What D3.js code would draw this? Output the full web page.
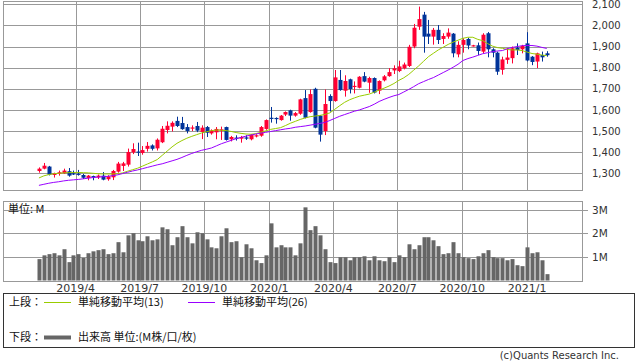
<!DOCTYPE html>
<html>
<head>
<meta charset="utf-8">
<script src="https://cdnjs.cloudflare.com/ajax/libs/d3/7.8.5/d3.min.js"></script>
<style>
  body { margin: 0; background: #fff; }
  svg { display: block; }
  text { font-family: 'DejaVu Sans', sans-serif; fill: #333; }
  .jp { font-family: 'Noto Sans CJK JP', sans-serif; fill: #111; }
</style>
</head>
<body>
<svg id="chart" width="638" height="362"></svg>
<script>
'use strict'

// weekly bars, first week ending 2019/2/8
const firstWeek = '2019-02-08'

const opens = [1311, 1322, 1332, 1292, 1298, 1300, 1310, 1300, 1298, 1292, 1278, 1287, 1281, 1289, 1272, 1281, 1308, 1335, 1341, 1399,
  1403, 1396, 1416, 1432, 1418, 1447, 1505, 1521, 1548, 1538, 1519, 1514, 1524, 1496, 1519, 1489, 1494, 1502, 1519, 1461,
  1469, 1464, 1470, 1461, 1476, 1478, 1510, 1563, 1562, 1552, 1578, 1598, 1573, 1582, 1656, 1590, 1700, 1573, 1500, 1666,
  1642, 1742, 1691, 1745, 1710, 1705, 1760, 1729, 1751, 1691, 1740, 1760, 1787, 1784, 1797, 1808, 1900, 1994, 2051, 1961,
  1947, 1979, 1936, 1947, 1961, 1863, 1908, 1936, 1903, 1906, 1876, 1963, 1887, 1871, 1790, 1837, 1845, 1895, 1887, 1915,
  1852, 1829, 1860, 1868]
const highs = [1328, 1349, 1335, 1303, 1313, 1322, 1325, 1313, 1316, 1297, 1292, 1289, 1294, 1306, 1291, 1316, 1354, 1354, 1417, 1442,
  1445, 1429, 1448, 1437, 1465, 1524, 1546, 1546, 1568, 1567, 1533, 1527, 1543, 1527, 1524, 1508, 1519, 1521, 1521, 1477,
  1480, 1477, 1480, 1486, 1485, 1524, 1555, 1614, 1565, 1576, 1593, 1601, 1590, 1653, 1694, 1697, 1705, 1576, 1697, 1674,
  1789, 1789, 1764, 1748, 1735, 1760, 1779, 1757, 1754, 1740, 1765, 1798, 1811, 1833, 1824, 1908, 2007, 2089, 2064, 2026,
  1988, 2002, 1963, 1986, 1964, 1925, 1939, 1941, 1908, 1919, 1963, 1969, 1892, 1876, 1852, 1892, 1900, 1915, 1908, 1968,
  1855, 1871, 1876, 1878]
const lows = [1303, 1319, 1290, 1280, 1289, 1297, 1284, 1292, 1289, 1273, 1267, 1267, 1273, 1267, 1265, 1268, 1303, 1311, 1332, 1391,
  1382, 1388, 1403, 1408, 1408, 1443, 1489, 1498, 1519, 1506, 1489, 1500, 1495, 1462, 1472, 1483, 1461, 1458, 1455, 1451,
  1455, 1445, 1458, 1456, 1470, 1473, 1506, 1540, 1535, 1549, 1571, 1549, 1568, 1577, 1560, 1587, 1513, 1450, 1481, 1592,
  1639, 1691, 1663, 1678, 1678, 1702, 1731, 1681, 1678, 1675, 1735, 1757, 1770, 1779, 1792, 1803, 1892, 1979, 1871, 1912,
  1909, 1912, 1912, 1937, 1849, 1849, 1871, 1887, 1900, 1860, 1868, 1849, 1849, 1766, 1767, 1818, 1820, 1860, 1868, 1830,
  1812, 1798, 1829, 1852]
const closes = [1322, 1336, 1294, 1300, 1305, 1313, 1289, 1295, 1295, 1279, 1289, 1283, 1289, 1270, 1286, 1311, 1346, 1347, 1401, 1415,
  1399, 1410, 1430, 1416, 1459, 1511, 1525, 1539, 1524, 1509, 1500, 1517, 1502, 1516, 1492, 1502, 1510, 1508, 1458, 1472,
  1464, 1472, 1464, 1483, 1480, 1519, 1552, 1560, 1559, 1573, 1590, 1573, 1585, 1650, 1563, 1675, 1516, 1483, 1628, 1642,
  1754, 1694, 1737, 1699, 1714, 1757, 1734, 1751, 1682, 1737, 1759, 1779, 1797, 1806, 1815, 1899, 1989, 2030, 1947, 1947,
  1979, 1931, 1950, 1966, 1868, 1908, 1931, 1905, 1906, 1879, 1956, 1887, 1871, 1781, 1839, 1848, 1892, 1884, 1903, 1834,
  1827, 1868, 1849, 1859]

// volume, millions
const volumes = [0.91, 1.07, 1.12, 1.16, 1.07, 1.33, 0.78, 1.07, 1.12, 0.96, 1.16, 1.24, 1.29, 1.33, 1.12, 1.16, 1.63, 1.20, 1.92, 2.01,
  1.71, 1.67, 1.88, 1.71, 1.75, 2.26, 2.18, 1.50, 1.84, 2.31, 1.84, 1.58, 2.05, 2.01, 1.75, 1.41, 1.37, 1.88, 2.22, 1.63,
  1.67, 0.99, 1.54, 1.37, 0.86, 0.74, 1.07, 2.43, 1.41, 1.50, 1.41, 1.41, 1.07, 1.58, 3.11, 2.14, 2.31, 1.92, 1.33, 0.78,
  0.74, 0.99, 0.99, 0.86, 0.99, 0.99, 1.03, 0.86, 1.03, 0.86, 0.82, 0.99, 0.78, 1.07, 0.99, 1.54, 1.33, 1.50, 1.84, 1.84,
  1.71, 1.46, 1.12, 1.16, 1.63, 1.16, 0.99, 0.95, 0.91, 1.03, 1.16, 1.29, 0.99, 0.95, 0.95, 0.86, 0.91, 0.65, 0.61, 1.41,
  1.16, 1.20, 0.86, 0.27]

const ma13 = [1278, 1288, 1294, 1298, 1300, 1302, 1303, 1304, 1304, 1303, 1302, 1300, 1298, 1297, 1297, 1297, 1298, 1302, 1310, 1317,
  1324, 1334, 1344, 1354, 1365, 1385, 1405, 1425, 1442, 1455, 1466, 1475, 1483, 1491, 1497, 1502, 1505, 1504, 1502, 1498,
  1493, 1489, 1486, 1485, 1488, 1494, 1501, 1508, 1512, 1516, 1526, 1537, 1546, 1555, 1562, 1568, 1571, 1574, 1579, 1586,
  1603, 1620, 1636, 1648, 1657, 1665, 1670, 1675, 1684, 1694, 1703, 1713, 1725, 1740, 1752, 1768, 1788, 1808, 1830, 1852,
  1868, 1884, 1897, 1910, 1921, 1930, 1939, 1944, 1944, 1934, 1928, 1914, 1902, 1895, 1892, 1886, 1884, 1884, 1881, 1874,
  1867, 1864, 1860, 1857]
const ma26 = [1243, 1248, 1253, 1257, 1260, 1264, 1267, 1269, 1271, 1274, 1277, 1280, 1282, 1284, 1286, 1289, 1293, 1299, 1305, 1311,
  1316, 1322, 1328, 1334, 1340, 1345, 1352, 1359, 1366, 1375, 1385, 1394, 1402, 1409, 1414, 1420, 1430, 1440, 1448, 1456,
  1464, 1470, 1476, 1481, 1486, 1490, 1494, 1498, 1502, 1506, 1510, 1513, 1518, 1521, 1524, 1528, 1532, 1536, 1541, 1550,
  1560, 1570, 1578, 1586, 1594, 1600, 1608, 1616, 1627, 1640, 1650, 1659, 1667, 1673, 1685, 1697, 1710, 1724, 1734, 1744,
  1753, 1765, 1777, 1789, 1802, 1816, 1834, 1843, 1850, 1858, 1866, 1871, 1876, 1879, 1881, 1890, 1896, 1900, 1904, 1905,
  1905, 1902, 1896, 1891]

const priceTicks = [1300, 1400, 1500, 1600, 1700, 1800, 1900, 2000, 2100]
const volumeTicks = [1, 2, 3]
const monthTicks = ['2019-04-01', '2019-07-01', '2019-10-01', '2020-01-01', '2020-04-01', '2020-07-01', '2020-10-01', '2021-01-01']

const upColor = '#ff0033'
const downColor = '#003399'
const ma13Color = '#99cc00'
const ma26Color = '#9900ff'
const gridColor = '#999'

const svg = d3.select('#chart')
const parseDate = d3.timeParse('%Y-%m-%d')
const crisp = v => Math.round(v) + 0.5

const start = parseDate(firstWeek)
const weeks = opens.map((o, i) => d3.timeWeek.offset(start, i))
const months = monthTicks.map(parseDate)

const left = 3
const right = 582
const price = { top: 1, bottom: 190 }
const vol = { top: 201, bottom: 280.5 }

const x = d3.scaleTime()
  .domain([parseDate('2018-12-19'), parseDate('2021-03-20')])
  .range([left, right])
const y = d3.scaleLinear().domain([1221, 2115.6]).range([price.bottom, price.top])
const yVol = d3.scaleLinear().domain([0, 3.38]).range([vol.bottom, vol.top])

const grid = svg.append('g').attr('stroke', gridColor).attr('stroke-width', 1)

const drawPanel = (panel, yScale, ticks, tickOut) => {
  grid.append('g').selectAll('line').data(ticks).join('line')
    .attr('x1', left).attr('x2', right + tickOut)
    .attr('y1', d => crisp(yScale(d))).attr('y2', d => crisp(yScale(d)))
  grid.append('g').selectAll('line').data(months).join('line')
    .attr('x1', d => crisp(x(d))).attr('x2', d => crisp(x(d)))
    .attr('y1', panel.top).attr('y2', panel.bottom)
  grid.append('rect')
    .attr('x', crisp(left)).attr('y', crisp(panel.top))
    .attr('width', Math.round(right - left)).attr('height', Math.round(panel.bottom - panel.top))
    .attr('fill', 'none')
}

drawPanel(price, y, priceTicks, 0)
drawPanel(vol, yVol, volumeTicks, 6)

// candles
const candles = svg.append('g')
weeks.forEach((d, i) => {
  const o = opens[i], c = closes[i]
  const color = c >= o ? upColor : downColor
  const cx = Math.round(x(d))
  candles.append('line')
    .attr('x1', cx + 0.5).attr('x2', cx + 0.5)
    .attr('y1', y(highs[i])).attr('y2', y(lows[i]))
    .attr('stroke', color).attr('stroke-width', 1)
  const top = y(Math.max(o, c))
  candles.append('rect')
    .attr('x', cx - 1.5).attr('width', 4)
    .attr('y', top).attr('height', Math.max(1.2, y(Math.min(o, c)) - top))
    .attr('fill', color)
})

// moving averages
const maLine = data => d3.line()
  .x((d, i) => x(weeks[i]))
  .y(d => y(d))(data)

svg.append('path').attr('d', maLine(ma13))
  .attr('fill', 'none').attr('stroke', ma13Color).attr('stroke-width', 1)
svg.append('path').attr('d', maLine(ma26))
  .attr('fill', 'none').attr('stroke', ma26Color).attr('stroke-width', 1)

// volume bars
svg.append('g').selectAll('rect').data(volumes).join('rect')
  .attr('x', (d, i) => Math.round(x(weeks[i])) - 1.5)
  .attr('width', 4)
  .attr('y', d => yVol(d))
  .attr('height', d => yVol(0) - yVol(d))
  .attr('fill', '#666')

// axis labels
svg.append('g').selectAll('text').data(priceTicks).join('text')
  .attr('x', 592).attr('y', d => y(d)).attr('dy', '0.36em')
  .style('font-size', '10px')
  .text(d3.format(','))

svg.append('g').selectAll('text').data(volumeTicks).join('text')
  .attr('x', 592).attr('y', d => yVol(d)).attr('dy', '0.36em')
  .style('font-size', '10.5px')
  .text(d => `${d}M`)

svg.append('g').selectAll('text').data(months).join('text')
  .attr('x', d => x(d)).attr('y', 291.5)
  .attr('text-anchor', 'middle')
  .style('font-size', '11px')
  .text(d3.timeFormat('%Y/%-m'))

svg.append('text').attr('class', 'jp')
  .attr('x', 8).attr('y', 213)
  .style('font-size', '11px')
  .text('単位: M')

// legend
const legend = svg.append('g')
legend.append('rect')
  .attr('x', 3.5).attr('y', 293.5).attr('width', 631).attr('height', 54)
  .attr('fill', 'none').attr('stroke', '#333')

const legendRows = [
  { y: 302, label: '上段：', items: [
    { x: 44, color: ma13Color, width: 1, text: '単純移動平均(13)' },
    { x: 188, color: ma26Color, width: 1, text: '単純移動平均(26)' }
  ] },
  { y: 337, label: '下段：', items: [
    { x: 44, color: '#666', width: 4, text: '出来高 単位:(M株/口/枚)' }
  ] }
]

legendRows.forEach(row => {
  legend.append('text').attr('class', 'jp')
    .attr('x', 9).attr('y', row.y).attr('dy', '0.36em')
    .style('font-size', '11px')
    .text(row.label)
  row.items.forEach(item => {
    legend.append('line')
      .attr('x1', item.x).attr('x2', item.x + 27)
      .attr('y1', row.y + 0.5).attr('y2', row.y + 0.5)
      .attr('stroke', item.color).attr('stroke-width', item.width)
    legend.append('text').attr('class', 'jp')
      .attr('x', item.x + 34).attr('y', row.y).attr('dy', '0.36em')
      .style('font-size', '11px')
      .text(item.text)
  })
})

svg.append('text')
  .attr('x', 619).attr('y', 355).attr('dy', '0.36em')
  .attr('text-anchor', 'end')
  .style('font-size', '10px')
  .text('(c)Quants Research Inc.')
</script>
</body>
</html>
